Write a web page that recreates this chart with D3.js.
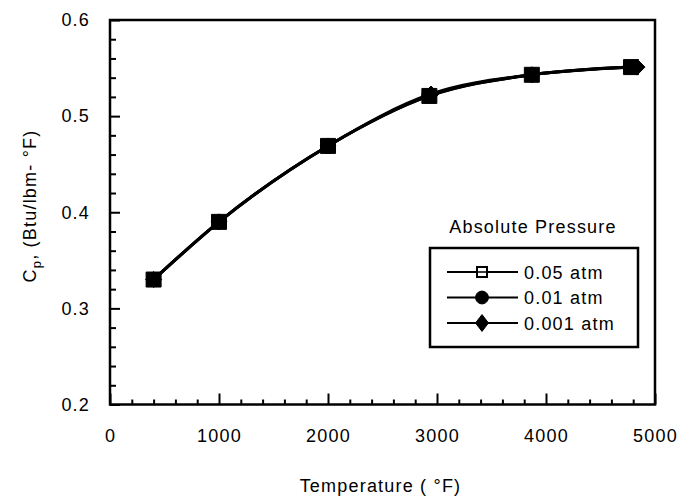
<!DOCTYPE html>
<html>
<head>
<meta charset="utf-8">
<script src="https://cdn.jsdelivr.net/npm/d3@7"></script>
<style>
  html, body { margin: 0; padding: 0; background: #fff; }
  svg text { font-family: Arial, "Liberation Sans", Helvetica, sans-serif; fill: #000; }
</style>
</head>
<body>
<svg id="chart" width="683" height="498"></svg>
<script>
// Specific heat of the gas vs. temperature at three absolute pressures
const series = ["0.05 atm", "0.01 atm", "0.001 atm"];
const temp005 = [400, 1000, 2000, 2930, 3870, 4780];
const cp005   = [0.330, 0.390, 0.469, 0.521, 0.543, 0.551];
const temp001 = [400, 1000, 2000, 2925, 3870, 4790];
const cp001   = [0.330, 0.390, 0.469, 0.521, 0.543, 0.551];
const temp0001 = [400, 1000, 2000, 2945, 3870, 4835];
const cp0001   = [0.330, 0.390, 0.469, 0.523, 0.543, 0.551];
const xTicks = [0, 1000, 2000, 3000, 4000, 5000];
const yTicks = [0.2, 0.3, 0.4, 0.5, 0.6];

const svg = d3.select("#chart");
const plotL = 110, plotR = 655, plotT = 20, plotB = 404.5;
const ink = "#000";

const x = d3.scaleLinear().domain([0, 5000]).range([plotL, plotR]);
const y = d3.scaleLinear().domain([0.2, 0.6]).range([plotB, plotT]);

const txt = { size: "18px", spacing: "1.2px" };

// diamond drawn as a square turned 45°, optionally stretched vertically
const diamond = (stretch) => ({
  draw(ctx, size) {
    const r = Math.sqrt(size / 2);
    ctx.moveTo(0, -r * stretch);
    ctx.lineTo(r, 0);
    ctx.lineTo(0, r * stretch);
    ctx.lineTo(-r, 0);
    ctx.closePath();
  }
});

// minor ticks (inward)
const xMinor = d3.range(0, 5001, 200).filter(v => v % 1000 !== 0);
const yMinor = d3.range(0.2, 0.6001, 0.02).filter(v => Math.abs(v * 10 - Math.round(v * 10)) > 1e-6);

svg.append("g").attr("transform", `translate(0,${plotB})`)
  .call(d3.axisBottom(x).tickValues(xMinor).tickSize(-5).tickFormat(""))
  .call(g => g.select(".domain").remove())
  .selectAll("line").attr("stroke", ink).attr("stroke-width", 2);

svg.append("g").attr("transform", `translate(${plotL},0)`)
  .call(d3.axisLeft(y).tickValues(yMinor).tickSize(-6).tickFormat(""))
  .call(g => g.select(".domain").remove())
  .selectAll("line").attr("stroke", ink).attr("stroke-width", 2);

// major ticks + labels
const xAxis = svg.append("g").attr("transform", `translate(0,${plotB})`)
  .call(d3.axisBottom(x).tickValues(xTicks).tickSizeInner(-11).tickSizeOuter(0)
    .tickPadding(25).tickFormat(d3.format("d")));
xAxis.select(".domain").remove();
xAxis.selectAll("line").attr("stroke", ink).attr("stroke-width", 2);
xAxis.selectAll("text").attr("font-size", txt.size).attr("letter-spacing", txt.spacing)
  .attr("font-family", null).attr("fill", ink);

const yAxis = svg.append("g").attr("transform", `translate(${plotL},0)`)
  .call(d3.axisLeft(y).tickValues(yTicks).tickSizeInner(-10).tickSizeOuter(0)
    .tickPadding(20).tickFormat(d3.format(".1f")));
yAxis.select(".domain").remove();
yAxis.selectAll("line").attr("stroke", ink).attr("stroke-width", 2);
yAxis.selectAll("text").attr("font-size", txt.size).attr("letter-spacing", txt.spacing)
  .attr("font-family", null).attr("fill", ink);

// plot frame
svg.append("rect")
  .attr("x", plotL).attr("y", plotT)
  .attr("width", plotR - plotL).attr("height", plotB - plotT)
  .attr("fill", "none").attr("stroke", ink).attr("stroke-width", 2.5);

// curves
const line = d3.line().x(d => x(d[0])).y(d => y(d[1])).curve(d3.curveMonotoneX);
const data = [
  d3.zip(temp005, cp005),
  d3.zip(temp001, cp001),
  d3.zip(temp0001, cp0001)
];
data.forEach(pts => {
  svg.append("path").attr("d", line(pts))
    .attr("fill", "none").attr("stroke", ink).attr("stroke-width", 3)
    .attr("stroke-linejoin", "round");
});

// markers
const sym = [
  d3.symbol().type(d3.symbolSquare).size(225),
  d3.symbol().type(d3.symbolCircle).size(160),
  d3.symbol().type(diamond(1)).size(128)
];
data.forEach((pts, i) => {
  svg.append("g").selectAll("path").data(pts).join("path")
    .attr("transform", d => `translate(${x(d[0])},${y(d[1])})`)
    .attr("d", sym[i]())
    .attr("fill", ink).attr("stroke", ink).attr("stroke-width", 1);
});

// axis titles
svg.append("text")
  .attr("x", (plotL + plotR) / 2 - 2).attr("y", 492)
  .attr("text-anchor", "middle")
  .attr("font-size", txt.size).attr("letter-spacing", txt.spacing)
  .text("Temperature ( °F)");

const yl = svg.append("text")
  .attr("transform", "translate(36,206) rotate(-90)")
  .attr("text-anchor", "middle")
  .attr("font-size", txt.size).attr("letter-spacing", txt.spacing);
yl.append("tspan").text("C");
yl.append("tspan").attr("font-size", "13px").attr("dy", 5).text("p");
yl.append("tspan").attr("dy", -5).text(", (Btu/lbm- °F)");

// legend
const lg = svg.append("g");
lg.append("text").attr("x", 533).attr("y", 233)
  .attr("text-anchor", "middle")
  .attr("font-size", txt.size).attr("letter-spacing", txt.spacing)
  .text("Absolute Pressure");
lg.append("rect").attr("x", 430).attr("y", 248).attr("width", 208).attr("height", 99)
  .attr("fill", "#fff").attr("stroke", ink).attr("stroke-width", 2.5);

const legSym = [
  d3.symbol().type(d3.symbolSquare).size(100),
  d3.symbol().type(d3.symbolCircle).size(130),
  d3.symbol().type(diamond(1.3)).size(84)
];
series.forEach((name, i) => {
  const ry = 272 + i * 25.5;
  lg.append("line").attr("x1", 447).attr("x2", 518).attr("y1", ry).attr("y2", ry)
    .attr("stroke", ink).attr("stroke-width", 2);
  lg.append("path").attr("transform", `translate(482,${ry})`)
    .attr("d", legSym[i]())
    .attr("fill", i === 0 ? "#fff" : ink)
    .attr("stroke", ink).attr("stroke-width", i === 0 ? 2 : 1);
  if (i === 0) {
    lg.append("line").attr("x1", 477).attr("x2", 487).attr("y1", ry).attr("y2", ry)
      .attr("stroke", ink).attr("stroke-width", 1.5);
  }
  lg.append("text").attr("x", 524).attr("y", ry + 6.5)
    .attr("font-size", txt.size).attr("letter-spacing", txt.spacing)
    .text(name);
});
</script>
</body>
</html>
